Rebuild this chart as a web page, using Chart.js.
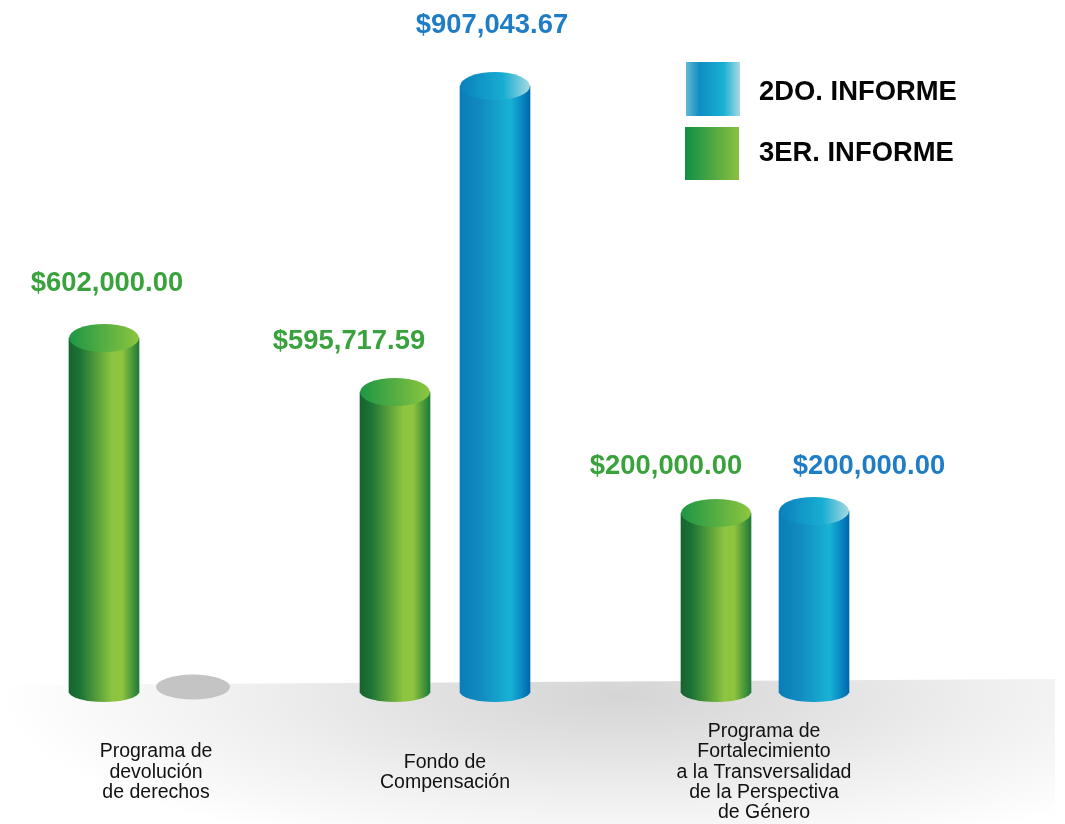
<!DOCTYPE html>
<html>
<head>
<meta charset="utf-8">
<script src="https://cdn.jsdelivr.net/npm/chart.js@4/dist/chart.umd.min.js"></script>
<style>
html,body{margin:0;padding:0;background:#fff;}
#wrap{width:1065px;height:824px;position:relative;}
canvas{filter:blur(0.7px);}
</style>
</head>
<body>
<div id="wrap"><canvas id="c" width="1065" height="824"></canvas></div>
<script>
// --- data ---
const categories = [
  ["Programa de","devolución","de derechos"],
  ["Fondo de","Compensación"],
  ["Programa de","Fortalecimiento","a la Transversalidad","de la Perspectiva","de Género"]
];
const seriesNames = ["3ER. INFORME","2DO. INFORME"];
// Printed amounts
const printedGreen = ["$602,000.00","$595,717.59","$200,000.00"];
const printedBlue  = [null,"$907,043.67","$200,000.00"];
// Bar lengths as drawn: the original graphic is not to scale, so these are
// read from the bar heights, in the units of the tallest bar's printed amount.
const drawnGreen = [530500,449800,269000];
const drawnBlue  = [0,907043,272000];

// --- layout only ---
const W = 1065, H = 824;
const groupCentres = [156,445,764];
const greenCentres = [104,395,716];
const blueCentres  = [193,495,814];
const greenLabelDx = [3,-46,-50];
const blueLabelDx  = [0,-3,55];
const greenLabelGap = [55,51,47];
const blueLabelGap  = [0,61,45];
const barW = 70, capRy = 14;

const GREEN = {
  body:[[0,"#17632f"],[0.16,"#1c7436"],[0.62,"#8cc53f"],[0.76,"#8fc43f"],[1,"#1d7a38"]],
  cap:[[0,"#1d9645"],[1,"#8cc63f"]],
  text:"#3aa23c"
};
const BLUE = {
  body:[[0,"#0a7db8"],[0.3,"#128bc0"],[0.72,"#18b2d3"],[0.86,"#0a8fc6"],[1,"#0066ad"]],
  cap:[[0,"#0b7fbd"],[0.62,"#17aed1"],[1,"#a6d8e2"]],
  text:"#1f7dc6"
};
const LEG_BLUE = [[0,"#64b9d2"],[0.25,"#0f8dc3"],[0.7,"#18b1d3"],[1,"#a8d9e2"]];
const LEG_GREEN = [[0,"#0e8f45"],[1,"#8cc03f"]];

function grad(ctx,x0,x1,stops){
  const g = ctx.createLinearGradient(x0,0,x1,0);
  stops.forEach(s=>g.addColorStop(s[0],s[1]));
  return g;
}
function barFill(pal){
  return c=>{
    if(!c.raw) return pal.body[1][1];
    if(c.raw.y===0) return "rgba(0,0,0,0)";
    const px = c.chart.scales.x.getPixelForValue(c.raw.x);
    if(!Number.isFinite(px)) return pal.body[1][1];
    return grad(c.chart.ctx,px-barW/2,px+barW/2,pal.body);
  };
}
function pts(xs,ys){ return xs.map((x,i)=>({x:x,y:ys[i]})); }

const cylinderPlugin = {
  id:"cylinder",
  beforeDraw(chart){
    const ctx = chart.ctx;
    ctx.save();
    ctx.beginPath();
    ctx.moveTo(0,685); ctx.lineTo(1055,679); ctx.lineTo(1055,H); ctx.lineTo(0,H); ctx.closePath();
    ctx.clip();
    ctx.translate(620,695);
    ctx.scale(1,0.27);
    const g = ctx.createRadialGradient(0,0,0,0,0,620);
    g.addColorStop(0,"#d6d5d6");
    g.addColorStop(0.3,"#e2e1e2");
    g.addColorStop(0.6,"#efefef");
    g.addColorStop(1,"#ffffff");
    ctx.fillStyle = g;
    ctx.fillRect(-700,-700,1500,1400);
    ctx.restore();
  },
  afterDatasetsDraw(chart){
    const ctx = chart.ctx;
    const base = chart.scales.y.getPixelForValue(0);
    [[0,GREEN,printedGreen,greenLabelDx,greenLabelGap],[1,BLUE,printedBlue,blueLabelDx,blueLabelGap]].forEach(s=>{
      const pal=s[1];
      chart.getDatasetMeta(s[0]).data.forEach((el,i)=>{
        const x=el.x, top=el.y;
        ctx.save();
        if(chart.data.datasets[s[0]].data[i].y===0){
          ctx.fillStyle="#c4c4c4";
          ctx.beginPath();
          ctx.ellipse(x,base-6,37,12.5,0,0,Math.PI*2);
          ctx.fill();
          ctx.restore();
          return;
        }
        ctx.fillStyle=grad(ctx,x-barW/2,x+barW/2,pal.body);
        ctx.beginPath();
        ctx.ellipse(x,base-1,barW/2,10,0,0,Math.PI);
        ctx.fill();
        ctx.fillStyle=grad(ctx,x-barW/2,x+barW/2,pal.cap);
        ctx.beginPath();
        ctx.ellipse(x,top,barW/2,capRy,0,0,Math.PI*2);
        ctx.fill();
        ctx.fillStyle=pal.text;
        ctx.font="bold 27.4px 'Liberation Sans', Arial, sans-serif";
        ctx.textAlign="center";
        ctx.textBaseline="middle";
        ctx.fillText(s[2][i],x+s[3][i],top-s[4][i]);
        ctx.restore();
      });
    });
  },
  afterDraw(chart){
    const ctx=chart.ctx;
    ctx.save();
    ctx.fillStyle=grad(ctx,686,740,LEG_BLUE);
    ctx.fillRect(686,62,54,54);
    ctx.fillStyle=grad(ctx,685,739,LEG_GREEN);
    ctx.fillRect(685,127,54,53);
    ctx.fillStyle="#050505";
    ctx.font="bold 27.4px 'Liberation Sans', Arial, sans-serif";
    ctx.textAlign="left";
    ctx.textBaseline="middle";
    ctx.fillText(seriesNames[1],759,92);
    ctx.fillText(seriesNames[0],759,153);
    ctx.restore();
  }
};

new Chart(document.getElementById("c"),{
  type:"bar",
  data:{datasets:[
    {label:seriesNames[0],data:pts(greenCentres,drawnGreen),backgroundColor:barFill(GREEN),grouped:false,barThickness:barW,borderWidth:0},
    {label:seriesNames[1],data:pts(blueCentres,drawnBlue),backgroundColor:barFill(BLUE),grouped:false,barThickness:barW,borderWidth:0}
  ]},
  options:{
    responsive:false,
    animation:false,
    layout:{padding:0},
    plugins:{legend:{display:false},tooltip:{enabled:false},title:{display:false}},
    scales:{
      x:{
        type:"linear",min:0,max:W,offset:false,
        grid:{display:false,drawTicks:false,offset:false},
        border:{display:false},
        afterBuildTicks(ax){ ax.ticks = groupCentres.map(v=>({value:v})); },
        afterFit(ax){ ax.height = H-693; },
        ticks:{
          autoSkip:false,maxRotation:0,minRotation:0,
          padding:39,crossAlign:"center",
          color:"#111111",
          font:{family:"'Liberation Sans', Arial, sans-serif",size:19.5,lineHeight:1.03},
          callback:(v,i)=>categories[i]
        }
      },
      y:{display:false,min:0,max:1035600}
    }
  },
  plugins:[cylinderPlugin]
});
</script>
</body>
</html>
